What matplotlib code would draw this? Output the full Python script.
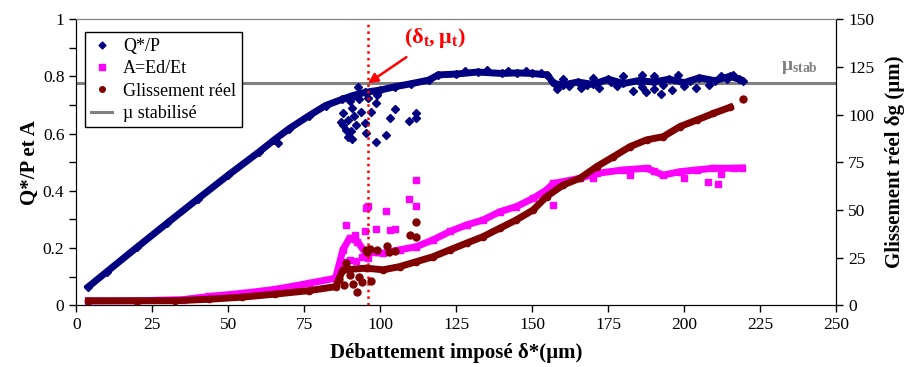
import matplotlib
matplotlib.use('Agg')
import matplotlib.pyplot as plt

plt.rcParams['font.family'] = ['Liberation Serif', 'DejaVu Serif']
plt.rcParams['mathtext.fontset'] = 'custom'
plt.rcParams['mathtext.rm'] = 'Liberation Serif'
plt.rcParams['mathtext.bf'] = 'Liberation Serif:bold'

# Q*/P (left axis) - main band
qp_x = [4, 10, 20, 30, 40, 50, 60, 65, 70, 76.5, 82, 87.5, 91, 95, 100, 105, 110,
        116, 119, 125, 132, 140, 145, 150, 155, 157, 160, 165, 170, 175, 180, 185,
        190, 195, 200, 205, 210, 215, 218]
qp_y = [0.065, 0.117, 0.203, 0.288, 0.372, 0.455, 0.535, 0.577, 0.617, 0.662, 0.698,
        0.72, 0.733, 0.744, 0.752, 0.764, 0.774, 0.787, 0.805, 0.808, 0.815, 0.81,
        0.812, 0.81, 0.805, 0.775, 0.77, 0.78, 0.772, 0.79, 0.775, 0.785, 0.78,
        0.79, 0.778, 0.795, 0.785, 0.80, 0.79]
# Q*/P scattered points
qp_sx = [87.7, 90.8, 87.2, 89.4, 92.1, 88.8, 89.4, 90.8, 94.9, 95.4, 98.7, 102, 103.1,
         105, 109.4, 111.6, 111.9, 98.7, 97.1, 92.7, 93.8, 87.7, 90.5, 91.5, 66.5,
         219.3, 158, 162, 166, 172, 178, 183, 186, 190, 193, 196, 200, 204, 208,
         160, 170, 180, 186, 190, 198, 212, 216, 192.4, 187.5, 90, 93, 96, 99,
         128, 135, 142, 148, 153, 168, 176, 202, 214]
qp_sy = [0.671, 0.688, 0.642, 0.647, 0.63, 0.612, 0.589, 0.58, 0.636, 0.601, 0.572,
         0.595, 0.653, 0.686, 0.644, 0.655, 0.673, 0.706, 0.676, 0.764, 0.676, 0.63,
         0.61, 0.66, 0.567, 0.785, 0.755, 0.765, 0.76, 0.758, 0.765, 0.75, 0.762,
         0.755, 0.77, 0.752, 0.765, 0.758, 0.77, 0.79, 0.795, 0.80, 0.805, 0.80,
         0.805, 0.80, 0.805, 0.74, 0.745, 0.715, 0.72, 0.725, 0.735,
         0.82, 0.822, 0.818, 0.82, 0.812, 0.768, 0.78, 0.785, 0.79]

# A = Ed/Et (left axis)
a_x = [4, 20, 35, 43.6, 54.6, 65.5, 76.5, 85.3, 87.7, 89.9, 92.5, 95, 100.9, 106.4,
       111.9, 117.4, 122.9, 128.4, 133.8, 139.3, 144.8, 150.3, 154.7, 156.9, 160,
       165.7, 171.2, 179.9, 187.6, 193.1, 198.6, 204.1, 209.6, 216.2, 219]
a_y = [0.015, 0.016, 0.02, 0.031, 0.042, 0.056, 0.077, 0.095, 0.194, 0.235, 0.223,
       0.185, 0.182, 0.194, 0.205, 0.229, 0.258, 0.281, 0.298, 0.327, 0.345, 0.374,
       0.403, 0.426, 0.432, 0.444, 0.461, 0.473, 0.479, 0.455, 0.467, 0.473, 0.479,
       0.479, 0.48]
a_sx = [88.8, 95.4, 95.9, 102, 98.7, 103.1, 105, 95, 91.6, 109.4, 111.6, 111.9, 95.7,
        156.9, 207.8, 211.2, 86.5, 88, 90, 92, 94, 96, 170, 182, 190, 200, 212]
a_sy = [0.281, 0.339, 0.348, 0.33, 0.266, 0.263, 0.266, 0.258, 0.246, 0.372, 0.348,
        0.438, 0.345, 0.351, 0.432, 0.424, 0.13, 0.15, 0.16, 0.155, 0.17, 0.165,
        0.445, 0.455, 0.47, 0.445, 0.46]

# Glissement reel (right axis, um)
g_x = [4, 20, 32.6, 43.6, 54.6, 65.5, 76.5, 85.3, 87.7, 95.4, 100.9, 106.4, 111.9,
       117.4, 122.9, 128.4, 133.8, 139.3, 144.8, 150.3, 154.7, 160.2, 165.7, 171.2,
       176.7, 182.2, 187.6, 193.1, 198.6, 204.1, 209.6, 215.1]
g_y = [2.4, 2.4, 2.4, 3.2, 4.3, 5.9, 7.7, 9.8, 18.6, 19.5, 18.6, 20.3, 22.9, 25.5,
       29.1, 32.6, 36, 40.4, 44.8, 50, 57, 63.1, 66.6, 72.7, 77.9, 83.2, 86.7, 88.4,
       93.7, 97.1, 100.6, 103.8]
g_sx = [88.8, 95.4, 96.5, 98.9, 102.2, 102.8, 105, 109.7, 111.6, 111.9, 92.5, 95.7,
        88, 91, 94, 97, 219.2, 86.5, 90, 93]
g_sy = [22.4, 29.1, 29.6, 29.1, 31.2, 27.9, 28.5, 36.9, 35.7, 43.9, 7.2, 28.2,
        10.5, 11, 12, 13, 108, 14, 16, 15]

mu_stab = 0.776
delta_t = 96

navy = '#000080'
pink = '#FF00FF'
brown = '#800000'
grey = '#808080'

fig = plt.figure(figsize=(9.08, 3.67), dpi=100)
ax = fig.add_axes([0.084, 0.168, 0.837, 0.78])
ax2 = ax.twinx()

ax.axhline(mu_stab, color=grey, lw=2.2, zorder=1)
ax.axvline(delta_t, ymax=0.99, color='red', ls=':', lw=1.8, zorder=5)

ax.plot(qp_x, qp_y, color=navy, lw=5, marker='D', ms=4, zorder=3)
ax.plot(qp_sx, qp_sy, ls='none', color=navy, marker='D', ms=4, zorder=3)
ax.plot(a_x, a_y, color=pink, lw=5, marker='s', ms=4.5, zorder=2)
ax.plot(a_sx, a_sy, ls='none', color=pink, marker='s', ms=5, zorder=2)
ax2.plot(g_x, g_y, color=brown, lw=5, marker='o', ms=4.5, zorder=3)
ax2.plot(g_sx, g_sy, ls='none', color=brown, marker='o', ms=5, zorder=3)

ax.set_xlim(0, 250)
ax.set_ylim(0, 1)
ax2.set_ylim(0, 150)
ax.set_xticks(range(0, 251, 25))
ax.set_yticks([0, 0.2, 0.4, 0.6, 0.8, 1])
ax.set_yticklabels(['0', '0.2', '0.4', '0.6', '0.8', '1'])
ax.set_yticks([0.1, 0.3, 0.5, 0.7, 0.9], minor=True)
ax2.set_yticks(range(0, 151, 25))
ax.tick_params(labelsize=12.5, direction='out', length=5, width=1)
ax.tick_params(which='minor', direction='out', length=5, width=1)
ax2.tick_params(labelsize=12.5, direction='out', length=5, width=1)
ax.spines['top'].set_color(grey)
ax2.spines['top'].set_color(grey)

ax.set_xlabel('Débattement imposé δ*(µm)', fontsize=15, fontweight='bold', labelpad=7)
ax.set_ylabel('Q*/P et A', fontsize=15, fontweight='bold', labelpad=2)
ax2.set_ylabel('Glissement réel δg (µm)', fontsize=15, fontweight='bold', labelpad=8)

ax.annotate(r'$\mathbf{(δ_t, μ_t)}$', xy=(delta_t, mu_stab), xytext=(118, 0.935),
            color='red', fontsize=16, ha='center', va='center',
            arrowprops=dict(arrowstyle='-|>', color='red', lw=1.8, mutation_scale=14,
                            shrinkA=6, shrinkB=0))
ax.text(238, 0.83, r'$\mathbf{μ_{stab}}$', color=grey, fontsize=14, ha='center', va='center')

handles = [
    plt.Line2D([], [], ls='none', marker='D', color=navy, ms=3.5),
    plt.Line2D([], [], ls='none', marker='s', color=pink, ms=4),
    plt.Line2D([], [], ls='none', marker='o', color=brown, ms=4),
    plt.Line2D([], [], color=grey, lw=2.2),
]
labels = ['Q*/P', 'A=Ed/Et', 'Glissement réel', 'µ stabilisé']
leg = ax.legend(handles, labels, loc='upper left', bbox_to_anchor=(0.0, 0.985),
                fontsize=13, frameon=True, fancybox=False, edgecolor='black',
                framealpha=1, handlelength=1.2, handletextpad=0.6, labelspacing=0.3,
                borderpad=0.3)
leg.get_frame().set_linewidth(1)
leg.set_zorder(10)

fig.savefig('out.png', dpi=100)
